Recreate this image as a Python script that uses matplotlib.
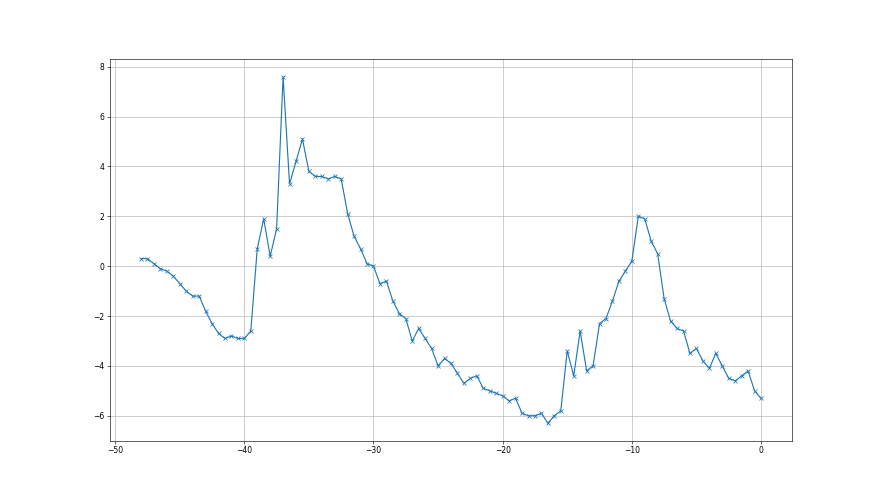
import numpy as np
import matplotlib
matplotlib.use("Agg")
import matplotlib.pyplot as plt

x_start = -48.0
x_step = 0.5
values = [
    0.3, 0.3, 0.1, -0.1, -0.2, -0.4, -0.7, -1.0, -1.2, -1.2,   # -48 .. -43.5
    -1.8, -2.3, -2.7, -2.9, -2.8, -2.9, -2.9, -2.6, 0.7, 1.9,  # -43 .. -38.5
    0.4, 1.5, 7.6, 3.3, 4.2, 5.1, 3.8, 3.6, 3.6, 3.5,          # -38 .. -33.5
    3.6, 3.5, 2.1, 1.2, 0.7, 0.1, 0.0, -0.7, -0.6, -1.4,       # -33 .. -28.5
    -1.9, -2.1, -3.0, -2.5, -2.9, -3.3, -4.0, -3.7, -3.9, -4.3,  # -28 .. -23.5
    -4.7, -4.5, -4.4, -4.9, -5.0, -5.1, -5.2, -5.4, -5.3, -5.9,  # -23 .. -18.5
    -6.0, -6.0, -5.9, -6.3, -6.0, -5.8, -3.4, -4.4, -2.6, -4.2,  # -18 .. -13.5
    -4.0, -2.3, -2.1, -1.4, -0.6, -0.2, 0.2, 2.0, 1.9, 1.0,      # -13 .. -8.5
    0.5, -1.3, -2.2, -2.5, -2.6, -3.5, -3.3, -3.8, -4.1, -3.5,   # -8 .. -3.5
    -4.0, -4.5, -4.6, -4.4, -4.2, -5.0, -5.3,                    # -3 .. 0
]
xs = [x_start + i * x_step for i in range(len(values))]

fig, ax = plt.subplots(figsize=(16, 9), dpi=55)
ax.plot(xs, values, marker='x')
ax.grid(True)
fig.savefig("out.png", dpi=55)
